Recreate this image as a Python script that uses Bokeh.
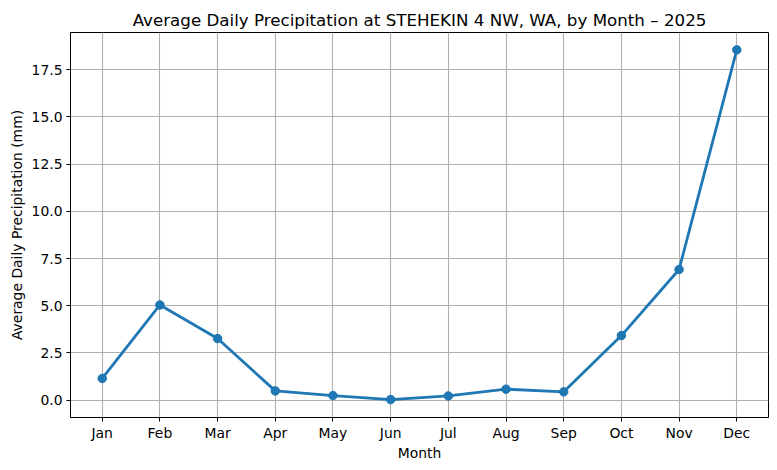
from bokeh.plotting import figure
from bokeh.models import Range1d, FixedTicker, NumeralTickFormatter
from bokeh.embed import file_html
from bokeh.resources import INLINE

months = ["Jan", "Feb", "Mar", "Apr", "May", "Jun", "Jul", "Aug", "Sep", "Oct", "Nov", "Dec"]
precip_mm = [1.15, 5.04, 3.26, 0.49, 0.24, 0.03, 0.22, 0.58, 0.44, 3.42, 6.92, 18.55]
y_ticks = [0.0, 2.5, 5.0, 7.5, 10.0, 12.5, 15.0, 17.5]

xs = list(range(len(months)))

FONT = "DejaVu Sans"
BLUE = "#1f77b4"

p = figure(width=777, height=470, output_backend="svg", toolbar_location=None,
           x_range=Range1d(-0.55, 11.55), y_range=Range1d(-0.92, 19.47),
           title="Average Daily Precipitation at STEHEKIN 4 NW, WA, by Month \u2013 2025",
           min_border_left=70, min_border_right=9, min_border_top=32, min_border_bottom=53)

p.title.text_font = FONT
p.title.text_font_size = "16.7px"
p.title.text_font_style = "normal"
p.title.text_color = "black"
p.title.align = "center"
p.title.standoff = 6
p.title.offset = 0

p.background_fill_color = "white"
p.border_fill_color = "white"
p.outline_line_color = "black"
p.outline_line_width = 1
p.outline_line_alpha = 1

for ax in (p.xaxis, p.yaxis):
    ax.axis_line_color = "black"
    ax.axis_line_width = 1
    ax.major_tick_line_color = "black"
    ax.major_tick_in = 0
    ax.major_tick_out = 4
    ax.minor_tick_line_color = None
    ax.major_label_text_font = FONT
    ax.major_label_text_font_size = "13.9px"
    ax.major_label_text_color = "black"
    ax.axis_label_text_font = FONT
    ax.axis_label_text_font_size = "13.9px"
    ax.axis_label_text_font_style = "normal"
    ax.axis_label_text_color = "black"
    ax.major_label_standoff = 4

p.xaxis.ticker = FixedTicker(ticks=xs)
p.xaxis.major_label_overrides = {i: m for i, m in zip(xs, months)}
p.xaxis.axis_label = "Month"
p.xaxis.major_label_standoff = 3
p.xaxis.axis_label_standoff = 1

p.yaxis.ticker = FixedTicker(ticks=y_ticks)
p.yaxis.formatter = NumeralTickFormatter(format="0.0")
p.yaxis.axis_label = "Average Daily Precipitation (mm)"
p.yaxis.axis_label_standoff = 4

for g in (p.xgrid, p.ygrid):
    g.grid_line_color = "#b0b0b0"
    g.grid_line_width = 1.1
    g.grid_line_alpha = 1

p.line(xs, precip_mm, line_color=BLUE, line_width=2.8)
p.scatter(xs, precip_mm, size=8.5, fill_color=BLUE, line_color=BLUE)

open("out.html", "w").write(file_html(p, INLINE))
